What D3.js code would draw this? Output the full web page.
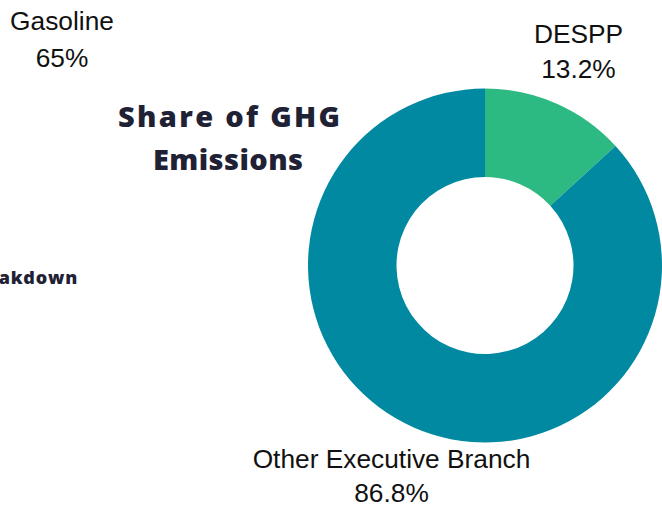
<!DOCTYPE html>
<html>
<head>
<meta charset="utf-8">
<script src="https://cdn.jsdelivr.net/npm/d3@7"></script>
<style>
  body { margin: 0; background: #fff; overflow: hidden; }
  .lbl { font-family: "Liberation Sans", Arial, sans-serif; font-size: 26.3px; fill: #111; }
  .ttl { font-family: "Open Sans", Lato, sans-serif; font-weight: 800; fill: #1f2235; }
</style>
</head>
<body>
<svg width="662" height="508"></svg>
<script>
const categories = ["DESPP", "Other Executive Branch"];
const values = [13.2, 86.8];
const colors = ["#2dba82", "#0089a0"];

// label from a neighbouring chart, cut off at the page edge
const sideLabel = ["Gasoline", "65%"];

const svg = d3.select("svg");

const cx = 485, cy = 265.5;
const outerR = 177, innerR = 88.5;

const pie = d3.pie().sort(null).value(d => d.value);
const arcs = pie(categories.map((c, i) => ({ name: c, value: values[i] })));

const arc = d3.arc().innerRadius(innerR).outerRadius(outerR);
const labelArc = d3.arc().innerRadius(232).outerRadius(232);

const g = svg.append("g").attr("transform", `translate(${cx},${cy})`);

g.selectAll("path")
  .data(arcs)
  .enter().append("path")
  .attr("d", arc)
  .attr("fill", (d, i) => colors[i]);

const labels = g.selectAll("g.l")
  .data(arcs)
  .enter().append("g")
  .attr("class", "l")
  .attr("transform", d => `translate(${labelArc.centroid(d)})`);

labels.append("text")
  .attr("class", "lbl")
  .attr("text-anchor", "middle")
  .attr("y", -10)
  .text(d => d.data.name);

labels.append("text")
  .attr("class", "lbl")
  .attr("text-anchor", "middle")
  .attr("y", 24.5)
  .text(d => d3.format(".1f")(d.value) + "%");

svg.append("text").attr("class", "lbl")
  .attr("x", 62).attr("y", 30).attr("text-anchor", "middle").text(sideLabel[0]);
svg.append("text").attr("class", "lbl")
  .attr("x", 62).attr("y", 67).attr("text-anchor", "middle").text(sideLabel[1]);

// title
svg.append("text").attr("class", "ttl")
  .attr("x", 118).attr("y", 127)
  .attr("font-size", 29)
  .attr("textLength", 222).attr("lengthAdjust", "spacing")
  .text("Share of GHG");
svg.append("text").attr("class", "ttl")
  .attr("x", 153).attr("y", 170)
  .attr("font-size", 29)
  .attr("textLength", 150).attr("lengthAdjust", "spacing")
  .text("Emissions");

svg.append("text").attr("class", "ttl")
  .attr("x", 78).attr("y", 284)
  .attr("font-size", 18)
  .attr("text-anchor", "end")
  .attr("letter-spacing", 0.8)
  .text("Emissions Breakdown");
</script>
</body>
</html>
